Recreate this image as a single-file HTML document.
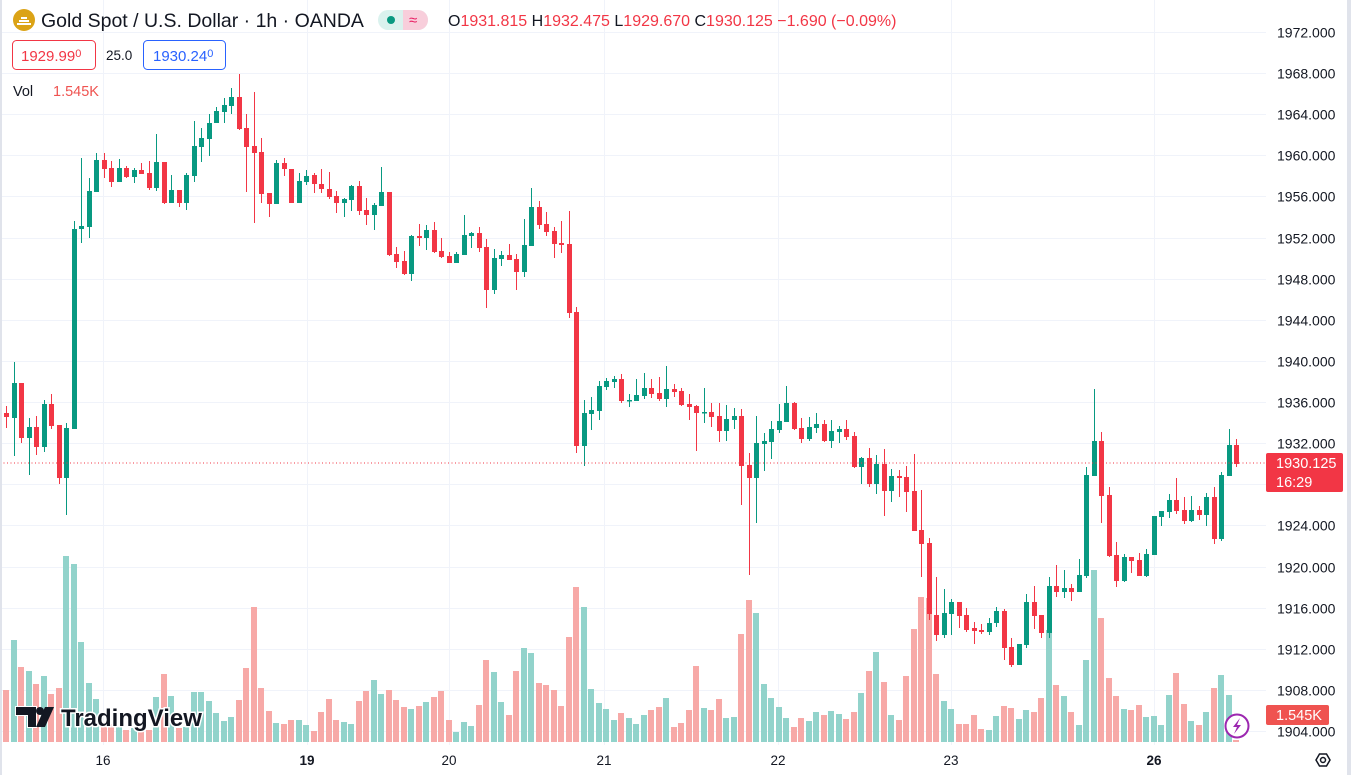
<!DOCTYPE html>
<html><head><meta charset="utf-8"><style>
html,body{margin:0;padding:0;background:#fff;}
body{width:1351px;height:775px;overflow:hidden;position:relative;font-family:"Liberation Sans",sans-serif;}
svg{position:absolute;left:0;top:0;}
</style></head><body>
<svg id="s" width="1351" height="775" xmlns="http://www.w3.org/2000/svg" font-family="Liberation Sans, sans-serif">
<rect x="0" y="0" width="1351" height="775" fill="#fff"/>
<g id="grid" stroke="#f0f3fa" stroke-width="1"></g>
<g id="vol"></g>
<g id="cdl" shape-rendering="crispEdges"></g>
<line x1="0" y1="463" x2="1266" y2="463" stroke="#F23645" stroke-width="1" stroke-dasharray="1,2.5"/>
<g id="axis" fill="#131722"></g>
<!-- header -->
<circle cx="24" cy="20" r="11" fill="#dba316"/>
<path d="M17 24h14M19 21h10M21 18h6" stroke="#fff" stroke-width="2"/>
<text x="41" y="27" font-size="19.5" fill="#131722">Gold Spot / U.S. Dollar · 1h · OANDA</text>
<rect x="378" y="10" width="50" height="20" rx="10" fill="#daf2ee"/>
<path d="M403 10h15a10 10 0 0 1 0 20h-15z" fill="#f8cedb"/>
<circle cx="391" cy="20" r="4" fill="#089981"/>
<text x="409" y="25" font-size="15" fill="#e91e63">≈</text>
<text x="448" y="26" font-size="16" fill="#F23645"><tspan fill="#131722">O</tspan>1931.815 <tspan fill="#131722">H</tspan>1932.475 <tspan fill="#131722">L</tspan>1929.670 <tspan fill="#131722">C</tspan>1930.125 −1.690 (−0.09%)</text>
<rect x="12.5" y="40.5" width="83" height="29" rx="4" fill="#fff" stroke="#F23645"/>
<text x="21" y="61" font-size="15" fill="#F23645">1929.99<tspan font-size="11" dy="-4">0</tspan></text>
<text x="106" y="60" font-size="13.5" fill="#131722">25.0</text>
<rect x="143.5" y="40.5" width="82" height="29" rx="4" fill="#fff" stroke="#2962ff"/>
<text x="153" y="61" font-size="15" fill="#2962ff">1930.24<tspan font-size="11" dy="-4">0</tspan></text>
<text x="13" y="96" font-size="14.5" fill="#131722">Vol</text>
<text x="53" y="96" font-size="14.5" fill="#ef5350">1.545K</text>
<!-- TV logo -->
<g>
<path d="M16 707h20v20h-8v-12h-12z" fill="#131722" stroke="#fff" stroke-width="2" paint-order="stroke"/>
<circle cx="40" cy="711" r="4" fill="#131722"/>
<path d="M45 707h9l-9 20h-9z" fill="#131722"/>
<text x="61" y="726" font-size="24" font-weight="bold" fill="#131722" stroke="#fff" stroke-width="3" paint-order="stroke">TradingView</text>
</g>
<!-- lightning -->
<circle cx="1237" cy="726" r="11.5" fill="#fff" stroke="#9c27b0" stroke-width="2"/>
<path d="M1240 718l-7 9h4l-3 7 7-9h-4z" fill="#9c27b0"/>
<!-- price label -->
<rect x="1266" y="453" width="77" height="39" rx="2" fill="#F23645"/>
<text x="1276" y="468" font-size="14.5" fill="#fff">1930.125</text>
<text x="1276" y="487" font-size="14.5" fill="#fff">16:29</text>
<rect x="1266" y="705" width="63" height="20" rx="2" fill="#ef5350"/>
<text x="1276" y="720" font-size="14.5" fill="#fff">1.545K</text>
<!-- settings -->
<path d="M1316 760l3.5-6h7l3.5 6-3.5 6h-7z" fill="none" stroke="#131722" stroke-width="1.5"/>
<circle cx="1323" cy="760" r="2.5" fill="none" stroke="#131722" stroke-width="1.5"/>
<rect x="0" y="0" width="2" height="775" fill="#e0e3eb"/>
<rect x="1347" y="0" width="4" height="775" fill="#e0e3eb"/>
</svg>
<script>
(function(){
var C=[[413,417,406,428],[418,383,362,456],[383,438,383,443],[438,427,418,475],[427,447,416,455],[447,404,400,452],[404,426,394,429],[425,478,425,484],[478,428,423,515],[429,229,221,429],[229,226,158,243],[227,191,178,238],[192,160,153,192],[160,169,153,178],[168,182,161,187],[182,168,159,182],[168,177,166,178],[177,170,168,183],[170,174,163,174],[173,188,161,190],[188,162,134,191],[162,203,162,204],[203,190,175,203],[190,203,190,207],[203,175,173,210],[176,146,121,182],[147,138,128,162],[139,123,114,156],[123,111,107,123],[112,105,98,123],[106,97,88,114],[97,129,74,130],[128,147,114,192],[146,153,92,223],[152,194,138,203],[193,204,193,217],[204,163,160,204],[163,169,158,176],[169,203,169,203],[203,181,173,203],[182,176,170,185],[175,184,173,193],[184,189,169,193],[189,197,172,199],[196,203,191,213],[203,199,198,217],[200,186,185,211],[186,211,181,215],[210,215,198,225],[215,205,203,230],[206,192,167,206],[192,255,192,256],[254,262,247,268],[261,274,251,275],[274,236,235,281],[236,238,224,246],[238,230,225,250],[230,252,222,253],[251,257,238,258],[256,263,252,263],[263,254,252,263],[255,235,215,255],[236,233,232,248],[233,248,227,252],[247,290,239,308],[290,258,249,294],[259,255,251,266],[255,260,244,260],[259,272,254,290],[272,245,219,277],[246,207,188,246],[207,225,201,229],[224,232,212,236],[231,244,227,258],[243,245,221,253],[244,313,211,318],[312,446,307,453],[446,413,400,466],[414,410,397,430],[411,386,381,420],[387,381,378,390],[382,379,376,388],[379,401,374,403],[400.5,400,394,407],[401,395,379,401],[396,388,373,399],[388,394,379,398],[393,399,377,401],[399,389,366,407],[389,392,384,397],[391,405,388,406],[404,407,394,420],[406,413,405,451],[412.5,412,388,423],[412,417,403,427],[416,431,403,442],[431,419,405,441],[420,416,408,429],[416,466,409,505],[465,478,453,575],[478,443,416,523],[444,441,433,471],[442,429,421,459],[430,421,404,433],[422,403,386,422],[403,429,402,430],[428,439,418,443],[439,427,417,441],[428,424,413,433],[424,441,420,442],[441,431,420,448],[432,429,426,443],[429,437,420,440],[436,467,432,468],[467,458,457,484],[458,484,448,487],[484,464,455,494],[464,491,449,516],[491,476,469,502],[476,478,470,497],[477,492,466,512],[491,531,454,531],[530,544,490,577],[543,614,538,620],[615,635,577,641],[635,613,589,638],[614,602,599,635],[602,616,602,628],[615,630,608,632],[628,631,622,644],[630,632,624,634],[632,623,618,635],[623,611,607,627],[611,648,609,660],[647,665,638,667],[665,644,644,665],[645,602,594,648],[602,616,586,629],[615,633,615,638],[633,586,577,638],[586,592,565,597],[592,588,570,598],[588,592,584,601],[592,575,559,592],[576,475,467,578],[476,441,389,476],[441,496,432,523],[495,556,487,557],[555,581,542,587],[581,557,554,582],[557,561,557,573],[560,576,553,576],[576,554,549,577],[555,516,516,555],[517,511,511,526],[512,500,494,518],[500,511,478,514],[510,521,497,524],[521,510,496,522],[510,515,506,520],[515,497,493,526],[497,539,487,544],[539,475,472,541],[476,445,429,476],[445,464,439,467]];
var V=[52,102,75,71,58,66,48,54,186,178,100,59,43,20,18,15,12,14,12,12,45,68,46,14,15,50,50,41,29,21,25,42,74,135,54,31,19,18,22,22,17,11,30,43,22,20,18,41,51,62,48,52,42,35,33,36,40,45,51,22,10,20,16,37,82,70,40,27,71,94,89,59,57,52,36,105,155,135,53,39,33,22,29,24,18,27,32,35,44,15,19,32,76,34,32,43,24,25,108,142,129,58,44,35,24,15,24,21,30,27,31,28,23,30,49,71,90,60,27,22,66,113,145,144,68,41,33,18,18,27,13,12,26,36,34,23,32,30,44,112,57,46,30,17,82,172,124,64,46,33,32,37,25,26,17,47,69,38,21,17,30,54,67,47,2];
var NS="http://www.w3.org/2000/svg";
function el(p,t,a){var e=document.createElementNS(NS,t);for(var k in a)e.setAttribute(k,a[k]);p.appendChild(e);return e;}
var g=document.getElementById('grid'),vg=document.getElementById('vol'),cg=document.getElementById('cdl'),ax=document.getElementById('axis');
for(var p=1904;p<=1972;p+=4){var y=Math.round(731-(p-1904)*10.279)+0.5;el(g,'line',{x1:0,x2:1266,y1:y,y2:y});
 var t=el(ax,'text',{x:1277,y:y+5,'font-size':14});t.textContent=p+'.000';}
[103,307,449,604,778,951,1154].forEach(function(x){el(g,'line',{x1:x+0.5,x2:x+0.5,y1:0,y2:745});});
var dl=[[103,'16',0],[307,'19',1],[449,'20',0],[604,'21',0],[778,'22',0],[951,'23',0],[1154,'26',1]];
dl.forEach(function(d){var t=el(ax,'text',{x:d[0],y:765,'font-size':13.5,'text-anchor':'middle','font-weight':d[2]?'bold':'normal'});t.textContent=d[1];});
for(var i=0;i<C.length;i++){var c=C[i],x=Math.round(6+7.5*i),up=c[1]<c[0];
 var col=up?'#089981':'#F23645';
 var h=V[i]||0;el(vg,'rect',{x:x-3,y:742-h,width:6,height:h,fill:up?'#92d3cb':'#f7a9a7'});
 el(cg,'rect',{x:x,y:c[2],width:1,height:Math.max(1,c[3]-c[2]),fill:col});
 var bt=Math.min(c[0],c[1]),bh=Math.max(1.5,Math.abs(c[1]-c[0]));
 el(cg,'rect',{x:x-2,y:bt,width:5,height:bh,fill:col});}
})();
</script>
</body></html>
